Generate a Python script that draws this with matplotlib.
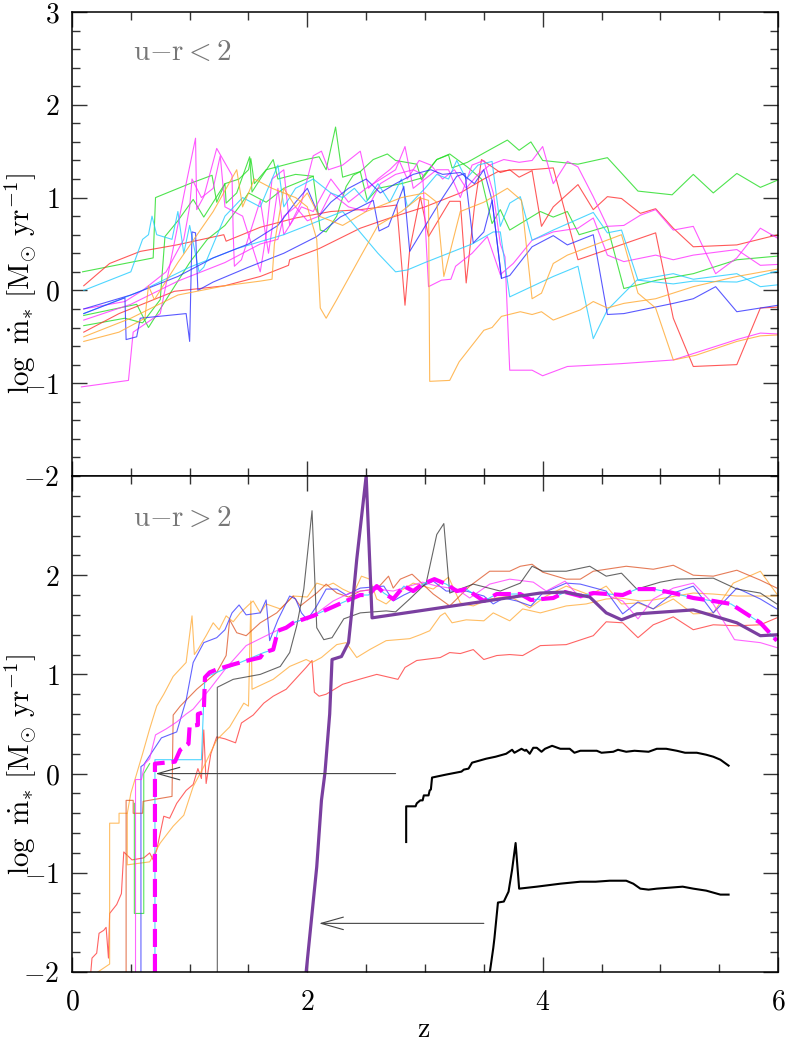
import matplotlib
matplotlib.use("Agg")
import matplotlib.pyplot as plt
from matplotlib.ticker import MultipleLocator, FixedLocator, FuncFormatter

plt.rcParams["mathtext.fontset"] = "cm"
plt.rcParams["font.family"] = "serif"
plt.rcParams["lines.scale_dashes"] = False

# ---- top panel (u-r < 2): (z, log mdot) ----
top_green1 = [(0.09, 0.2), (0.69, 0.35), (0.71, 1.0), (1.0, 1.15), (1.19, 1.24), (1.23, 0.95), (1.3, 1.15),
              (1.42, 1.2), (1.5, 1.3), (1.52, 1.42), (1.55, 1.15), (1.65, 1.3), (1.8, 1.35), (1.95, 1.4),
              (2.1, 1.44), (2.16, 1.3), (2.24, 1.76), (2.3, 1.22), (2.45, 1.28), (2.56, 1.41), (2.68, 1.47),
              (2.75, 1.4), (2.93, 1.36), (2.97, 1.19), (3.1, 1.41), (3.2, 1.46), (3.23, 1.32), (3.36, 1.38),
              (3.5, 1.48), (3.7, 1.62), (3.8, 1.51), (3.9, 1.6), (4.0, 1.4), (4.3, 1.36), (4.55, 1.43),
              (4.81, 1.07), (5.1, 1.03), (5.28, 1.25), (5.45, 1.05), (5.65, 1.26), (5.85, 1.11), (6.0, 1.19)]
top_green2 = [(0.1, -0.38), (0.45, -0.3), (0.6, -0.35), (0.75, -0.1), (0.79, 0.58), (0.9, 0.75), (1.03, 0.98),
              (1.12, 0.79), (1.3, 1.15), (1.31, 0.94), (1.4, 1.05), (1.51, 1.44), (1.53, 1.06), (1.6, 1.2),
              (1.71, 1.41), (1.75, 1.2), (1.9, 1.25), (2.05, 1.23), (2.11, 0.65), (2.16, 0.63), (2.25, 0.8),
              (2.33, 1.12), (2.39, 1.24), (2.45, 1.28), (2.51, 0.97), (2.6, 1.1), (2.8, 1.15), (2.97, 1.21),
              (3.1, 1.41), (3.21, 1.47), (3.36, 1.33), (3.48, 1.2), (3.57, 0.72), (3.64, 0.87), (3.72, 0.65),
              (3.98, 0.85), (4.09, 0.79), (4.21, 0.85), (4.31, 0.6), (4.55, 0.69), (4.69, 0.02), (4.97, 0.11),
              (5.28, 0.18), (5.65, 0.33), (6.0, 0.37)]
top_green3 = [(0.1, -0.27), (0.55, -0.15), (0.65, -0.4), (0.7, -0.3), (0.9, 0.1), (1.0, 0.3), (1.15, 0.55),
              (1.3, 0.7), (1.42, 0.9), (1.5, 1.05), (1.65, 0.95), (1.8, 1.1), (2.05, 1.23)]
top_red1 = [(0.1, 0.05), (0.32, 0.29), (0.58, 0.42), (0.89, 0.49), (1.29, 0.6), (1.31, 0.53), (1.6, 0.68),
            (1.9, 0.78), (2.2, 0.85), (2.45, 0.87), (2.76, 0.92), (2.83, -0.16), (2.87, 0.44), (2.96, 1.01),
            (3.03, 0.58), (3.21, 0.96), (3.3, 0.96), (3.35, 0.08), (3.42, 0.9), (3.48, 1.41), (3.64, 1.27),
            (3.72, 1.3), (3.8, 1.22), (3.91, 1.29), (3.99, 0.69), (4.09, 0.9), (4.3, 1.14), (4.43, 0.87),
            (4.55, 1.01), (4.67, 0.99), (4.83, 0.83), (4.96, 0.88), (5.11, 0.67), (5.28, 0.47), (5.65, 0.49),
            (6.0, 0.6)]
top_red2 = [(0.1, -0.45), (0.4, -0.25), (0.87, -0.01), (1.3, 0.05), (1.6, 0.15), (1.84, 0.27), (1.85, 0.33),
            (2.1, 0.45), (2.45, 0.67), (2.7, 0.78), (3.0, 0.9), (3.3, 1.05), (3.5, 1.2), (3.62, 1.28),
            (3.75, 1.3), (3.9, 1.3), (4.09, 1.32), (4.3, 0.33), (4.96, 0.62), (5.11, -0.3), (5.28, -0.82),
            (5.65, -0.8), (5.85, -0.19), (6.0, -0.18)]
top_magenta1 = [(0.08, -1.04), (0.48, -0.97), (0.52, -0.45), (0.75, -0.25), (0.97, 1.15), (1.05, 1.64),
                (1.06, 0.87), (1.12, 1.01), (1.23, 1.53), (1.36, 1.24), (1.37, 0.62), (1.38, 0.26), (1.44, 0.33),
                (1.6, 0.97), (1.67, 0.4), (1.75, 1.1), (1.8, 0.6), (1.95, 0.9), (2.05, 0.85), (2.2, 1.2),
                (2.35, 0.95), (2.5, 1.1), (2.75, 1.3), (2.83, 1.55), (2.9, 1.1), (3.0, 1.2), (3.1, 1.3),
                (3.2, 1.3), (3.3, 1.0), (3.4, 1.35), (3.5, 1.4), (3.58, 1.05), (3.64, 0.5), (3.68, 0.36),
                (3.72, -0.86), (3.91, -0.86), (4.0, -0.92), (4.21, -0.82), (4.66, -0.79), (5.11, -0.75),
                (5.65, -0.53), (5.85, -0.46), (6.0, -0.47)]
top_magenta2 = [(0.1, -0.2), (0.45, -0.12), (0.6, 0.0), (0.8, 0.2), (0.95, 0.55), (1.0, 0.9), (1.02, 1.2),
                (1.1, 1.0), (1.2, 1.1), (1.26, 1.45), (1.3, 0.9), (1.45, 0.8), (1.55, 0.4), (1.6, 0.2),
                (1.65, 0.6), (1.7, 1.2), (1.8, 1.3), (1.85, 0.7), (1.95, 0.95), (2.05, 1.45), (2.12, 1.5),
                (2.18, 1.3), (2.3, 1.35), (2.4, 1.45), (2.45, 1.5), (2.52, 1.1), (2.6, 1.2), (2.7, 1.3),
                (2.78, 1.4), (2.85, 1.2), (2.95, 1.4), (3.05, 1.35), (3.15, 1.2), (3.25, 1.3), (3.35, 1.1),
                (3.45, 1.25), (3.55, 1.35), (3.67, 1.41), (3.8, 1.38), (3.91, 1.4), (4.0, 1.55), (4.09, 1.15),
                (4.21, 1.39), (4.3, 1.33), (4.43, 1.01), (4.55, 0.69), (4.69, 0.7), (4.83, 0.81), (4.96, 0.87),
                (5.11, 0.65), (5.28, 0.69), (5.47, 0.18), (5.65, 0.35), (5.85, 0.67), (6.0, 0.56)]
top_magenta3 = [(0.1, -0.32), (0.5, -0.15), (0.9, 0.1), (1.3, 0.3), (1.6, 0.5), (1.75, 0.55), (1.8, 0.8),
                (1.9, 0.9), (2.0, 0.75), (2.1, 0.8), (2.2, 1.05), (2.35, 0.9), (2.5, 0.85), (2.62, 1.15),
                (2.75, 1.25), (2.9, 1.3), (2.98, 1.25), (3.03, 0.04), (3.14, 0.11), (3.22, 0.12), (3.26, 0.26),
                (3.4, 0.4), (3.53, 0.58), (3.64, 0.17), (3.75, 0.29), (3.91, 0.54), (4.09, 0.63), (4.3, 0.67),
                (4.43, 0.78), (4.55, 0.38), (4.69, 0.31), (4.96, 0.38), (5.11, 0.33), (5.28, 0.38), (5.65, 0.44),
                (5.85, 0.27), (6.0, 0.28)]
top_cyan1 = [(0.1, 0.0), (0.5, 0.2), (0.6, 0.55), (0.65, 0.6), (0.68, 0.8), (0.72, 0.6), (0.85, 0.55),
             (0.9, 0.85), (0.95, 0.4), (1.0, 0.7), (1.08, 0.2), (1.12, 0.25), (1.3, 0.8), (1.45, 1.0), (1.6, 0.9),
             (1.75, 1.35), (1.8, 0.9), (1.9, 1.1), (2.05, 1.2), (2.2, 1.05), (2.3, 1.0), (2.4, 1.1), (2.5, 0.95),
             (2.6, 1.15), (2.7, 0.95), (2.8, 1.2), (2.85, 0.9), (3.0, 1.1), (3.1, 1.25), (3.2, 1.2), (3.27, 1.4),
             (3.35, 1.2), (3.45, 1.35), (3.57, 1.39), (3.64, 0.69), (3.72, 0.94), (3.81, 1.01), (3.91, 0.54),
             (4.09, 0.65), (4.43, 0.84), (4.55, 0.62), (4.67, 0.65), (4.81, 0.11), (5.11, 0.07), (5.28, 0.1),
             (5.65, 0.09), (6.0, 0.21)]
top_cyan2 = [(0.1, -0.25), (0.6, 0.0), (1.0, 0.25), (1.4, 0.45), (1.8, 0.6), (2.1, 0.75), (2.3, 0.85),
             (2.6, 0.4), (2.75, 0.2), (2.85, 0.22), (3.0, 0.3), (3.2, 0.4), (3.4, 0.5), (3.58, 0.63), (3.64, 0.63),
             (3.72, -0.07), (4.09, 0.15), (4.3, 0.26), (4.43, -0.52), (4.55, -0.21), (4.8, 0.11), (5.11, 0.18),
             (5.28, 0.12), (5.65, 0.18), (5.85, 0.04), (6.0, 0.06)]
top_blue1 = [(0.1, -0.25), (0.45, -0.08), (0.46, -0.53), (0.55, -0.5), (0.58, -0.3), (0.97, -0.25), (1.0, -0.55),
             (1.02, 0.63), (1.05, 0.62), (1.07, 0.0), (1.2, 0.09), (1.5, 0.25), (1.8, 0.4), (2.08, 0.58),
             (2.28, 0.79), (2.56, 0.97), (2.61, 0.64), (2.69, 0.69), (2.82, 1.12), (2.87, 0.42), (3.13, 0.96),
             (3.27, 1.23), (3.34, 1.26), (3.41, 0.51), (3.5, 0.63), (3.57, 0.97), (3.65, 0.13), (3.72, 0.16),
             (3.91, 0.47), (4.09, 0.59), (4.21, 0.49), (4.43, 0.6), (4.55, -0.26), (4.69, -0.25), (5.11, -0.14),
             (5.28, -0.09), (5.47, 0.04), (5.65, -0.23), (6.0, -0.16)]
top_blue2 = [(0.1, -0.2), (0.5, -0.05), (0.9, 0.15), (1.2, 0.35), (1.5, 0.5), (1.75, 0.7), (1.9, 0.95),
             (2.0, 1.1), (2.1, 0.8), (2.2, 0.95), (2.35, 1.1), (2.5, 1.2), (2.62, 1.05), (2.75, 1.15),
             (2.9, 1.25), (3.05, 1.3), (3.15, 1.25), (3.3, 1.27), (3.42, 1.15), (3.5, 1.3), (3.57, 0.97),
             (3.65, 0.13)]
top_orange1 = [(0.1, -0.55), (0.4, -0.45), (0.62, -0.3), (0.65, 0.05), (0.7, -0.1), (0.9, 0.3), (1.2, 0.85),
               (1.4, 1.3), (1.45, 0.9), (1.55, 1.2), (1.7, 1.1), (1.9, 1.0), (2.0, 0.9), (2.08, 0.55), (2.11, -0.19),
               (2.16, -0.3), (2.25, -0.1), (2.45, 0.36), (2.6, 0.7), (2.8, 0.85), (2.95, 1.0), (3.03, 0.97),
               (3.04, -0.98), (3.21, -0.97), (3.29, -0.77), (3.5, -0.43), (3.57, -0.4), (3.65, -0.28), (3.81, -0.23),
               (3.91, -0.26), (3.99, -0.23), (4.09, -0.32), (4.32, -0.21), (4.43, -0.12), (4.55, -0.19),
               (4.69, -0.14), (4.96, -0.09), (5.28, 0.04), (5.65, 0.15), (6.0, 0.23)]
top_orange2 = [(0.1, -0.5), (0.5, -0.3), (0.9, -0.05), (1.3, 0.05), (1.6, 0.1), (1.7, 0.12), (1.72, 0.5),
               (1.8, 1.1), (1.9, 0.9), (2.0, 1.05), (2.1, 0.8), (2.3, 0.7), (2.5, 0.85), (2.7, 0.95), (2.8, 1.0),
               (3.0, 1.05), (3.1, 0.95), (3.16, 0.15), (3.3, 0.85), (3.5, 0.95), (3.7, 1.1), (3.82, 0.97),
               (3.91, -0.09), (3.99, -0.03), (4.09, 0.29), (4.21, 0.38), (4.67, 0.6), (4.81, -0.03), (4.96, -0.19),
               (5.11, -0.75), (5.3, -0.7), (5.65, -0.55), (5.85, -0.49), (6.0, -0.48)]

# ---- bottom panel (u-r > 2) ----
bot_red = [(0.16, -2.0), (0.17, -1.86), (0.21, -1.81), (0.23, -1.61), (0.27, -1.58), (0.29, -1.55), (0.31, -1.86),
           (0.32, -1.41), (0.38, -1.32), (0.42, -1.21), (0.44, -0.79), (0.51, -0.87), (0.61, -0.85), (0.66, -0.8),
           (0.69, -0.87), (0.72, -0.77), (0.78, -0.43), (0.83, -0.45), (0.89, -0.3), (0.97, -0.17), (1.03, -0.11),
           (1.07, 0.05), (1.1, -0.05), (1.12, 0.44), (1.14, -0.1), (1.18, 0.2), (1.23, 0.37), (1.3, 0.35),
           (1.39, 0.31), (1.44, 0.51), (1.54, 0.59), (1.63, 0.71), (1.71, 0.78), (1.82, 0.85), (1.99, 1.07),
           (2.04, 1.14), (2.06, 0.82), (2.1, 0.78), (2.16, 0.8), (2.3, 0.9), (2.44, 0.95), (2.59, 1.0),
           (2.77, 0.95), (2.83, 1.07), (2.93, 1.14), (3.13, 1.17), (3.21, 1.22), (3.3, 1.21), (3.41, 1.25),
           (3.5, 1.15), (3.61, 1.19), (3.72, 1.2), (3.83, 1.19), (3.98, 1.29), (4.2, 1.3), (4.43, 1.39),
           (4.54, 1.53), (4.68, 1.52), (4.81, 1.37), (4.94, 1.5), (5.11, 1.58), (5.28, 1.45), (5.45, 1.5),
           (5.65, 1.49), (5.85, 1.5), (5.99, 1.57)]
bot_orange1 = [(0.22, -2.0), (0.32, -1.92), (0.32, -0.5), (0.4, -0.5), (0.4, -0.4), (0.47, -0.4), (0.5, -0.2),
               (0.6, 0.2), (0.66, 0.45), (0.72, 0.68), (0.78, 0.8), (0.86, 0.98), (0.97, 1.12), (1.02, 1.59),
               (1.04, 1.2), (1.07, 1.25), (1.14, 1.39), (1.2, 1.52), (1.25, 1.45), (1.31, 1.59), (1.37, 1.53),
               (1.43, 1.62), (1.51, 1.71), (1.54, 1.74), (1.6, 1.62), (1.65, 1.71), (1.77, 1.66), (1.88, 1.79),
               (2.0, 1.78), (2.08, 1.92), (2.16, 1.89), (2.22, 1.92), (2.3, 1.86), (2.39, 1.81), (2.46, 1.99),
               (2.53, 1.96), (2.59, 1.76), (2.67, 1.71), (2.79, 1.84), (2.9, 1.92), (3.07, 1.86), (3.2, 1.98),
               (3.3, 1.72), (3.41, 1.69), (3.55, 1.76), (3.72, 1.79), (3.89, 1.67), (4.03, 1.79), (4.2, 1.89),
               (4.4, 1.8), (4.54, 1.89), (4.67, 1.71), (4.81, 1.72), (4.94, 1.66), (5.11, 1.76), (5.28, 1.61),
               (5.45, 1.62), (5.62, 1.92), (5.85, 2.04), (5.99, 1.81)]
bot_orange2 = [(0.47, -0.4), (0.47, -0.92), (0.66, -0.89), (0.75, -0.7), (0.86, -0.53), (0.95, -0.42),
               (1.03, -0.13), (1.12, 0.07), (1.23, 0.34), (1.34, 0.47), (1.46, 0.71), (1.5, 0.68), (1.52, 1.74),
               (1.53, 0.85), (1.71, 0.95), (1.85, 1.08), (1.99, 1.15), (2.04, 1.12), (2.12, 1.17), (2.25, 1.3),
               (2.33, 1.32), (2.42, 1.17), (2.53, 1.25), (2.67, 1.34), (2.87, 1.36), (2.96, 1.4), (3.04, 1.44),
               (3.13, 1.59), (3.17, 1.62), (3.23, 1.52), (3.35, 1.55), (3.5, 1.54), (3.58, 1.62), (3.72, 1.54),
               (3.83, 1.66), (3.98, 1.62), (4.2, 1.69), (4.37, 1.71), (4.54, 1.76), (4.66, 1.77), (4.83, 1.74),
               (4.94, 1.75), (5.28, 1.82), (5.45, 1.81), (5.65, 1.79), (5.85, 1.79), (5.99, 1.79)]
bot_brown = [(0.46, -2.0), (0.46, -0.27), (0.52, -0.27), (0.52, -0.4), (0.6, -0.4), (0.605, -0.28), (0.85, -0.23),
             (0.86, 0.59), (0.92, 0.68), (1.06, 0.85), (1.23, 1.02), (1.31, 1.19), (1.34, 1.55), (1.4, 1.42),
             (1.48, 1.39), (1.6, 1.52), (1.74, 1.62), (1.88, 1.79), (1.94, 1.69), (2.08, 1.82), (2.16, 1.91),
             (2.25, 1.82), (2.35, 1.78), (2.45, 1.84), (2.59, 1.86), (2.69, 1.99), (2.73, 1.87), (2.79, 1.96),
             (2.89, 2.01), (3.07, 1.81), (3.21, 1.69), (3.38, 1.89), (3.55, 2.04), (3.72, 2.04), (3.81, 2.09),
             (3.91, 2.11), (4.0, 2.03), (4.2, 1.96), (4.32, 1.96), (4.43, 2.04), (4.71, 2.09), (4.94, 2.06),
             (5.11, 2.1), (5.28, 2.0), (5.45, 1.99), (5.65, 2.05), (5.85, 1.95), (5.99, 1.87)]
bot_blue = [(0.586, -2.0), (0.586, 0.07), (0.61, 0.09), (0.76, 0.36), (0.89, 0.42), (0.97, 0.74), (1.03, 1.12),
            (1.12, 1.32), (1.23, 1.37), (1.3, 1.45), (1.36, 1.62), (1.42, 1.7), (1.48, 1.6), (1.6, 1.62),
            (1.65, 1.75), (1.68, 1.34), (1.75, 1.55), (1.85, 1.79), (1.9, 1.76), (1.95, 1.62), (2.0, 1.55),
            (2.08, 1.69), (2.16, 1.86), (2.25, 1.86), (2.33, 1.8), (2.45, 1.87), (2.65, 1.89), (2.73, 1.74),
            (2.82, 1.8), (3.07, 1.94), (3.18, 1.84), (3.35, 1.84), (3.5, 1.79), (3.58, 1.71), (3.67, 1.77),
            (3.78, 1.74), (3.9, 1.69), (4.0, 1.82), (4.2, 1.92), (4.32, 1.91), (4.54, 1.84), (4.68, 1.61),
            (4.81, 1.73), (4.94, 1.66), (5.11, 1.82), (5.28, 1.89), (5.45, 1.62), (5.65, 1.87), (5.85, 1.76),
            (5.99, 1.66)]
bot_magenta = [(0.54, -2.0), (0.54, -0.06), (0.59, -0.06), (0.62, 0.1), (0.66, 0.15), (0.71, 0.39), (0.8, 0.45),
               (0.89, 0.52), (0.97, 0.6), (1.03, 0.65), (1.17, 0.85), (1.3, 1.05), (1.48, 1.29), (1.65, 1.39),
               (1.88, 1.52), (2.05, 1.59), (2.22, 1.74), (2.36, 1.82), (2.45, 1.84), (2.59, 1.86), (2.73, 1.84),
               (2.98, 1.93), (3.1, 1.89), (3.27, 1.86), (3.38, 1.77), (3.55, 1.91), (3.72, 1.96), (3.92, 1.93),
               (4.03, 1.84), (4.19, 1.94), (4.32, 1.77), (4.49, 1.82), (4.68, 1.74), (4.81, 1.56), (4.94, 1.76),
               (5.11, 1.87), (5.28, 1.92), (5.45, 1.71), (5.63, 1.35), (5.85, 1.32), (5.99, 1.27)]
bot_green = [(0.53, -0.3), (0.53, -1.41), (0.61, -1.41), (0.61, 0.0), (0.66, 0.1)]
bot_black = [(1.235, -2.0), (1.235, 0.87), (1.37, 0.95), (1.6, 1.0), (1.77, 1.08), (1.85, 1.22), (1.91, 1.49),
             (1.97, 1.86), (2.04, 2.65), (2.08, 1.47), (2.14, 1.35), (2.21, 1.37), (2.31, 1.56), (2.45, 1.62),
             (2.67, 1.64), (2.75, 1.63), (2.87, 1.76), (3.01, 1.92), (3.1, 2.41), (3.16, 2.52), (3.21, 1.82),
             (3.41, 1.91), (3.64, 1.84), (3.81, 1.92), (3.91, 2.09), (4.0, 2.04), (4.2, 2.04), (4.4, 2.09),
             (4.54, 1.99), (4.67, 2.02), (4.8, 1.86), (5.0, 1.93), (5.14, 1.96), (5.45, 1.97), (5.65, 1.86),
             (5.85, 1.82), (5.99, 1.71)]
bot_mean = [(0.705, -2.0), (0.705, 0.1), (0.875, 0.12), (0.92, 0.24), (0.99, 0.3), (1.0, 0.48), (1.07, 0.49),
            (1.07, 0.6), (1.12, 0.62), (1.13, 0.97), (1.17, 1.02), (1.23, 1.05), (1.37, 1.1), (1.46, 1.13),
            (1.6, 1.17), (1.63, 1.22), (1.71, 1.25), (1.75, 1.44), (1.82, 1.47), (1.88, 1.52), (2.05, 1.59),
            (2.14, 1.64), (2.33, 1.74), (2.45, 1.8), (2.52, 1.8), (2.59, 1.89), (2.65, 1.82), (2.73, 1.76),
            (2.82, 1.89), (2.9, 1.84), (2.98, 1.91), (3.08, 1.96), (3.18, 1.91), (3.27, 1.84), (3.35, 1.86),
            (3.5, 1.74), (3.61, 1.81), (3.81, 1.81), (3.9, 1.75), (4.09, 1.77), (4.19, 1.83), (4.32, 1.79),
            (4.43, 1.82), (4.68, 1.8), (4.8, 1.86), (4.94, 1.86), (5.11, 1.82), (5.28, 1.77), (5.45, 1.74),
            (5.6, 1.71), (5.85, 1.52), (5.99, 1.34)]
bot_cyan = [(0.705, -2.0), (0.705, 0.14), (1.1, 0.14), (1.12, 0.74), (1.13, 0.97)] + bot_mean[15:]
bot_purple = [(1.99, -2.0), (2.08, -0.94), (2.12, -0.27), (2.15, 0.01), (2.19, 0.6), (2.21, 1.15), (2.29, 1.18),
              (2.35, 1.32), (2.38, 1.66), (2.42, 2.16), (2.5, 3.0), (2.55, 1.57), (3.98, 1.82), (4.19, 1.83),
              (4.4, 1.78), (4.54, 1.62), (4.67, 1.55), (4.8, 1.61), (5.28, 1.65), (5.65, 1.52), (5.85, 1.39),
              (6.0, 1.4)]
inset_upper = [(2.84, -0.69), (2.84, -0.33), (2.92, -0.33), (2.93, -0.3), (2.96, -0.27), (2.98, -0.27),
               (2.99, -0.22), (3.03, -0.22), (3.04, -0.17), (3.05, -0.16), (3.06, -0.04), (3.18, -0.01),
               (3.31, 0.02), (3.33, 0.04), (3.37, 0.05), (3.4, 0.11), (3.52, 0.15), (3.6, 0.17), (3.69, 0.2),
               (3.74, 0.24), (3.76, 0.21), (3.82, 0.25), (3.85, 0.23), (3.86, 0.24), (3.89, 0.2), (3.92, 0.26),
               (3.95, 0.26), (3.99, 0.22), (4.02, 0.25), (4.08, 0.28), (4.15, 0.25), (4.19, 0.25), (4.23, 0.25),
               (4.27, 0.21), (4.32, 0.23), (4.46, 0.23), (4.5, 0.21), (4.6, 0.22), (4.64, 0.24), (4.71, 0.22),
               (4.78, 0.23), (4.9, 0.22), (4.97, 0.25), (5.05, 0.25), (5.14, 0.23), (5.21, 0.21), (5.31, 0.21),
               (5.39, 0.19), (5.45, 0.17), (5.51, 0.14), (5.58, 0.08)]
inset_lower = [(3.55, -2.01), (3.58, -1.76), (3.59, -1.66), (3.62, -1.3), (3.67, -1.29), (3.71, -1.19),
               (3.74, -0.97), (3.77, -0.7), (3.8, -1.16), (3.95, -1.14), (4.15, -1.11), (4.32, -1.09),
               (4.45, -1.09), (4.57, -1.08), (4.71, -1.08), (4.77, -1.11), (4.83, -1.16), (4.9, -1.17),
               (4.97, -1.16), (5.08, -1.15), (5.19, -1.14), (5.28, -1.16), (5.39, -1.18), (5.51, -1.22),
               (5.58, -1.22)]

arrow_upper = ((2.75, 0.0), (0.71, 0.0))
arrow_lower = ((3.5, -1.51), (2.1, -1.51))

GREEN, RED, MAGENTA, CYAN = "#22dd22", "#ff3030", "#ff30ff", "#22ccff"
BLUE, ORANGE, BROWN = "#3030ff", "#ffa830", "#dd5020"

top_series = [(top_green1, GREEN), (top_green2, GREEN), (top_green3, GREEN), (top_red1, RED), (top_red2, RED),
              (top_magenta1, MAGENTA), (top_magenta2, MAGENTA), (top_magenta3, MAGENTA),
              (top_cyan1, CYAN), (top_cyan2, CYAN), (top_blue1, BLUE), (top_blue2, BLUE),
              (top_orange1, ORANGE), (top_orange2, ORANGE)]
bot_series = [(bot_red, RED), (bot_orange1, ORANGE), (bot_orange2, ORANGE), (bot_green, GREEN),
              (bot_brown, BROWN), (bot_blue, BLUE), (bot_magenta, MAGENTA), (bot_black, "#333333")]


def xy(points):
    return [p[0] for p in points], [p[1] for p in points]


fig = plt.figure(figsize=(7.85, 10.42), dpi=100)
ax_top = fig.add_axes([0.0917, 0.5432, 0.8994, 0.4453])
ax_bot = fig.add_axes([0.0917, 0.0672, 0.8994, 0.476])

for pts, col in top_series:
    ax_top.plot(*xy(pts), color=col, lw=0.8, alpha=0.8)

for pts, col in bot_series:
    ax_bot.plot(*xy(pts), color=col, lw=0.8, alpha=0.75)
ax_bot.plot(*xy(bot_cyan), color=CYAN, lw=0.8, alpha=0.8)
ax_bot.plot(*xy(bot_mean), color="#ff00ff", lw=3, dashes=(13, 5))
ax_bot.plot(*xy(bot_purple), color="#7a3fa0", lw=2.3)
ax_bot.plot(*xy(inset_upper), color="black", lw=1.5)
ax_bot.plot(*xy(inset_lower), color="black", lw=1.5)
for start, end in (arrow_upper, arrow_lower):
    ax_bot.annotate("", xy=end, xytext=start,
                    arrowprops=dict(arrowstyle="->,head_length=1.6,head_width=0.45",
                                    color="#444444", lw=0.8, mutation_scale=10,
                                    shrinkA=0, shrinkB=0))

fmt = FuncFormatter(lambda v, pos: r"$%d$" % round(v))
for ax, ticks in ((ax_top, [-2, -1, 0, 1, 2, 3]), (ax_bot, [-2, -1, 0, 1, 2])):
    ax.set_xlim(0, 6)
    ax.set_ylim(-2, 3)
    ax.xaxis.set_major_locator(MultipleLocator(2))
    ax.xaxis.set_minor_locator(MultipleLocator(0.5))
    ax.yaxis.set_major_locator(FixedLocator(ticks))
    ax.yaxis.set_minor_locator(MultipleLocator(0.2))
    ax.xaxis.set_major_formatter(fmt)
    ax.yaxis.set_major_formatter(fmt)
    ax.tick_params(which="both", direction="in", top=True, right=True, width=1, color="#333333")
    ax.tick_params(which="major", length=11, labelsize=20, pad=9)
    ax.tick_params(which="minor", length=5.5)
    for sp in ax.spines.values():
        sp.set_linewidth(1.1)
ax_top.tick_params(labelbottom=False)
ax_bot.tick_params(axis="x", pad=12)

ax_top.text(0.52, 2.57, r"$\mathrm{u{-}r{<}2}$", fontsize=21, color="#777777", va="center")
ax_bot.text(0.52, 2.58, r"$\mathrm{u{-}r{>}2}$", fontsize=21, color="#777777", va="center")

ylab = r"$\log\ \dot{\mathrm{m}}_{*}\ [\mathrm{M}_{\odot}\ \mathrm{yr}^{-1}]$"
fig.text(0.026, 0.728, ylab, rotation=90, fontsize=21, ha="center", va="center")
fig.text(0.026, 0.266, ylab, rotation=90, fontsize=21, ha="center", va="center")
fig.text(0.54, 0.012, r"$\mathrm{z}$", fontsize=20, ha="center", va="center")

fig.savefig("out.png", dpi=100)
